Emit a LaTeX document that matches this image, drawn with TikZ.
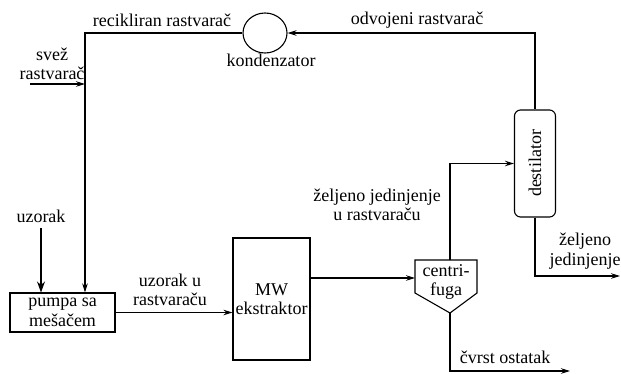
\documentclass[tikz,border=0pt]{standalone}
\usepackage{fontspec}
\setmainfont{Liberation Serif}
\newfontfamily\diagfont{Liberation Serif}
\usetikzlibrary{arrows.meta,shapes.geometric}
\begin{document}
\begin{tikzpicture}[x=1pt,y=-1pt,
  every node/.style={font=\diagfont\fontsize{18}{19.5}\selectfont, inner sep=0pt},
  box/.style={draw, line width=1.1pt, align=center},
  lbl/.style={align=center},
  flow/.style={line width=1.1pt, -{Stealth[length=9pt,width=5.5pt]}},
  pipe/.style={line width=1.1pt}]
\useasboundingbox (0,0) rectangle (621,373);
% units
\node[box, minimum width=105pt, minimum height=39pt] (pump) at (62.5,312.5) {pumpa sa\\mešačem};
\node[box, minimum width=77pt, minimum height=122pt] (mw) at (271.5,299) {MW\\ekstraktor};
\node[box, rounded corners=6pt, minimum width=41pt, minimum height=107pt] (dest) at (535,163.5) {};
\node[rotate=90] (destt) at (dest.center) {destilator};
\node[draw, ellipse, line width=1.1pt, minimum width=44pt, minimum height=40pt] (cond) at (265,33) {};
% centrifuge
\coordinate (cftl) at (415,260);
\coordinate (cftr) at (477,260);
\coordinate (cfr) at (477,293);
\coordinate (cfb) at (450,313);
\coordinate (cfbl) at (415,293);
\draw[line width=1.1pt, line join=miter] (cftl) -- (cftr) -- (cfr) -- (cfb) -- (cfbl) -- cycle;
\node[lbl] (cf) at (446,282) {centri-\\fuga};
\coordinate (cfl) at (415,278);
\coordinate (cft) at (450,260);
% labels
\node[lbl] (lrec) at (162,20) {recikliran rastvarač};
\node[lbl] (lodv) at (417,20) {odvojeni rastvarač};
\node[lbl] (lkon) at (271,60) {kondenzator};
\node[lbl] (lsvez) at (52,64) {svež\\rastvarač};
\node[lbl] (luz) at (41,216) {uzorak};
\node[lbl] (luzr) at (170,290) {uzorak u\\rastvaraču};
\node[lbl] (lzel) at (377,205) {željeno jedinjenje\\u rastvaraču};
\node[lbl] (lzj) at (585,251) {željeno\\jedinjenje};
\node[lbl] (lcv) at (505,357) {čvrst ostatak};
% connectors
\draw[flow] (dest.north) |- (cond.east);
\draw[flow] (cond.west) -| ([xshift=22.5pt]pump.north);
\coordinate (fs) at (30,84);
\coordinate (fsend) at (85,84);
\draw[flow] (fs) -- (fsend);
\draw[line width=1.1pt, -{Stealth[length=11pt,width=8pt]}] ([yshift=-5pt]luz.south) -- (luz.south |- pump.north);
\draw[flow] (pump.east) -- (pump.east -| mw.west);
\draw[flow] (mw.east |- cfl) -- (cfl);
\draw[flow] (cft) |- (dest.west);
\coordinate (out1) at (620,276);
\draw[flow] (dest.south) |- (out1);
\coordinate (out2) at (570,371);
\draw[flow] (cfb) |- (out2);
\end{tikzpicture}
\end{document}
